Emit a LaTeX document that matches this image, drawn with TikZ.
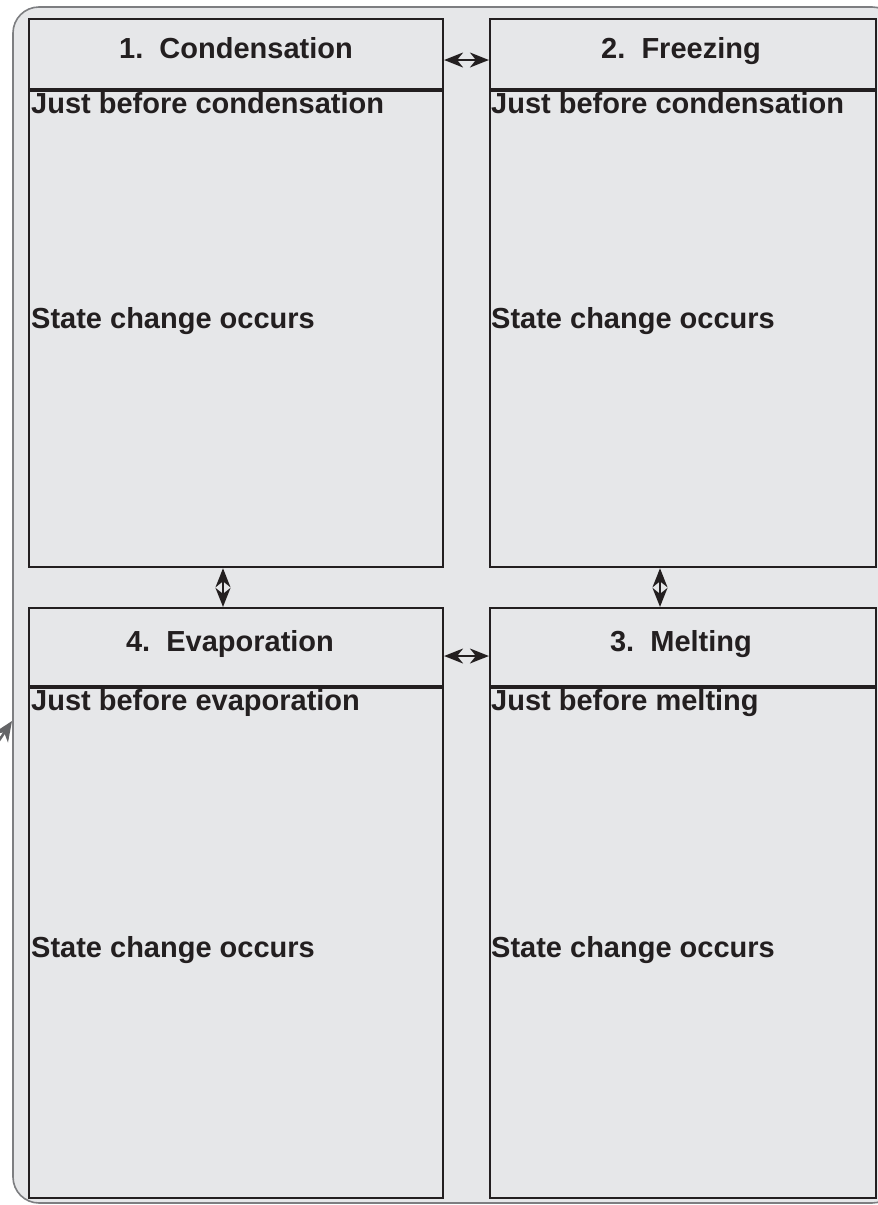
\documentclass[tikz,border=0pt]{standalone}
\usepackage{fontspec}
\setmainfont{Liberation Sans}
\usetikzlibrary{arrows.meta}

\definecolor{panel}{RGB}{230,231,233}
\definecolor{rim}{RGB}{125,126,129}
\definecolor{ink}{RGB}{35,31,32}

\tikzset{
  hdr/.style = {draw=ink, line width=2.2pt, inner sep=0pt},
  bdy/.style = {draw=ink, line width=2.2pt, inner sep=0pt, anchor=north},
  ttl/.style = {font=\bfseries\fontsize{29}{31}\selectfont, text=ink, inner sep=0pt, anchor=base},
  lbl/.style = {font=\bfseries\fontsize{29}{31}\selectfont, text=ink, inner sep=0pt, anchor=base west},
  link/.style = {ink, line width=1.8pt,
    {Stealth[length=19pt, width=15pt, inset=6pt]}-{Stealth[length=19pt, width=15pt, inset=6pt]}}
}

\begin{document}
\begin{tikzpicture}[x=1pt, y=-1pt]

\useasboundingbox (0,0) rectangle (878,1205);
\clip (0,0) rectangle (878,1205);

% outer panel
\draw [rim, line width=1.6pt, fill=panel, rounded corners=26pt] (13,7) rectangle (898,1203);
\coordinate (tail) at (-14,760);
\coordinate (head) at (12,721);
\draw [rim!80!black, line width=2.5pt, -{Stealth[length=20pt, width=17pt, inset=6pt]}] (tail) -- (head);

% top row
\node [hdr, minimum width=414pt, minimum height=70pt] (condh) at (236,54) {};
\node [bdy, minimum width=414pt, minimum height=476pt] (condb) at (condh.south) {};
\node [hdr, minimum width=386pt, minimum height=70pt] (frzh) at (683,54) {};
\node [bdy, minimum width=386pt, minimum height=476pt] (frzb) at (frzh.south) {};

% bottom row
\node [hdr, minimum width=414pt, minimum height=78pt] (evah) at (236,647) {};
\node [bdy, minimum width=414pt, minimum height=510pt] (evab) at (evah.south) {};
\node [hdr, minimum width=386pt, minimum height=78pt] (melth) at (683,647) {};
\node [bdy, minimum width=386pt, minimum height=510pt] (meltb) at (melth.south) {};

% titles
\node [ttl] (t1) at (236,58) {1.\ \ Condensation};
\node [ttl] (t2) at (681,58) {2.\ \ Freezing};
\node [ttl] (t3) at (681,651) {3.\ \ Melting};
\node [ttl] (t4) at (230,651) {4.\ \ Evaporation};

% labels
\node [lbl] (c1) at (31,113) {Just before condensation};
\node [lbl] (c2) at (31,328) {State change occurs};
\node [lbl] (f1) at (491,113) {Just before condensation};
\node [lbl] (f2) at (491,328) {State change occurs};
\node [lbl] (e1) at (31,710) {Just before evaporation};
\node [lbl] (e2) at (31,957) {State change occurs};
\node [lbl] (m1) at (491,710) {Just before melting};
\node [lbl] (m2) at (491,957) {State change occurs};

% links
\draw [link] ([yshift=-6pt]condh.east) -- ([yshift=-6pt]frzh.west);
\draw [link] ([yshift=-9pt]evah.east) -- ([yshift=-9pt]melth.west);
\draw [link] ([xshift=-13pt]condb.south) -- ([xshift=-13pt]evah.north);
\draw [link] ([xshift=-23pt]frzb.south) -- ([xshift=-23pt]melth.north);

\end{tikzpicture}
\end{document}
